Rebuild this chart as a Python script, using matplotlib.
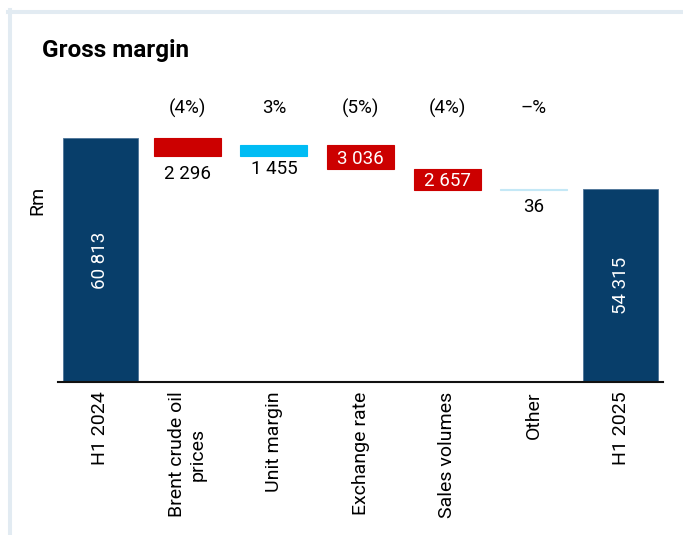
import matplotlib
matplotlib.use('Agg')
import matplotlib.pyplot as plt
import numpy as np

plt.rcParams['font.family'] = ['Roboto', 'DejaVu Sans']

# Gross margin bridge, Rm
categories = ['H1 2024', 'Brent crude oil\nprices', 'Unit margin', 'Exchange rate',
              'Sales volumes', 'Other', 'H1 2025']
start_total = 60813
changes = [-2296, 1455, -3036, -2657, 36]
end_total = 54315
change_labels = ['2 296', '1 455', '3 036', '2 657', '36']
pct_labels = ['(4%)', '3%', '(5%)', '(4%)', '\u2013%']
total_labels = ['60 813', '54 315']

NAVY = '#083e6a'
RED = '#cc0000'
CYAN = '#00bcf4'
OTHER = '#c4e8f6'

W, H = 683, 535
fig = plt.figure(figsize=(W / 100, H / 100), dpi=100)

# light frame on left and top edges
fig.add_artist(plt.Line2D([10 / W, 10 / W], [0, 1 - 10 / H], color='#e2ebf2', lw=2.9))
fig.add_artist(plt.Line2D([8 / W, 1], [1 - 12 / H, 1 - 12 / H], color='#e2ebf2', lw=2.9))

ax = fig.add_axes([58 / W, 1 - 382 / H, (663 - 58) / W, (382 - 90) / H])

x = np.arange(len(categories))
levels = np.cumsum([start_total] + changes)
bottoms = np.minimum(levels[:-1], levels[1:])
heights = np.abs(changes)
colors = []
for i, c in enumerate(changes):
    if i == len(changes) - 1:
        colors.append(OTHER)
    elif c < 0:
        colors.append(RED)
    else:
        colors.append(CYAN)

# totals
ax.bar([x[0], x[-1]], [start_total, end_total], width=0.865, color=NAVY,
       edgecolor='#4d7398', linewidth=0.6, zorder=2)
# changes (Other is tiny, the edge keeps it visible as a thin line)
ax.bar(x[1:-1], heights, bottom=bottoms, width=0.77, color=colors,
       edgecolor=colors, linewidth=0.8, zorder=2)

ax.set_xlim(-0.49, 6.49)
ax.set_ylim(30000, 66870)

# value labels
for i, (lab, c) in enumerate(zip(change_labels, changes)):
    xi = x[i + 1]
    if i in (2, 3):
        ax.annotate(lab, (xi, bottoms[i] + heights[i] / 2), xytext=(0, -1.5),
                    textcoords='offset points', ha='center', va='center',
                    color='white', fontsize=13.5)
    else:
        off = -9.5 if i == 1 else -12.5
        ax.annotate(lab, (xi, bottoms[i]), xytext=(0, off),
                    textcoords='offset points', ha='center', va='center',
                    color='black', fontsize=13.5)
    ax.text(xi, 64600, pct_labels[i], ha='center', va='center', fontsize=13.5)

for xi, val, lab in zip([x[0], x[-1]], [start_total, end_total], total_labels):
    ax.text(xi, 30000 + (val - 30000) / 2, lab, rotation=90, ha='center',
            va='center', color='white', fontsize=13.5)

ax.set_xticks(x)
ax.set_xticklabels(categories, rotation=90, fontsize=14, va='top', ha='center',
                   multialignment='center')
ax.tick_params(axis='x', length=0, pad=7)
ax.set_yticks([])
for s in ['top', 'right', 'left']:
    ax.spines[s].set_visible(False)
ax.spines['bottom'].set_linewidth(1.5)
ax.spines['bottom'].set_color('#111111')

fig.text(42 / W, 1 - 57 / H, 'Gross margin', fontsize=17.5, fontweight='bold',
         va='baseline', ha='left')
fig.text(37 / W, 1 - 200 / H, 'Rm', rotation=90, fontsize=14, ha='center', va='center')

fig.savefig('out.png', dpi=100, facecolor='white')
